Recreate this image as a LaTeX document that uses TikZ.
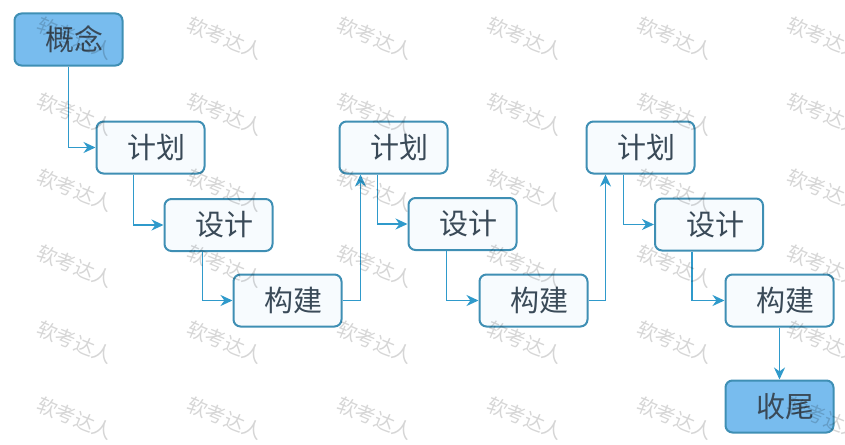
\documentclass[tikz,border=0pt]{standalone}
\usepackage{fontspec}
\setmainfont{Noto Sans CJK SC}
\usetikzlibrary{arrows.meta}
\definecolor{boxline}{HTML}{3F8FB4}
\definecolor{flowline}{HTML}{2F9ACB}
\definecolor{endfill}{HTML}{78BCEE}
\definecolor{stepfill}{HTML}{F7FBFE}
\definecolor{booktext}{HTML}{3A4A58}

\begin{document}
\begin{tikzpicture}[x=1pt,y=-1pt]
	\tikzstyle{phase}=[
		rectangle, rounded corners=7pt, draw=boxline, line width=2pt, fill=stepfill,
		minimum width=108pt, minimum height=52pt, inner sep=0pt,
		text=booktext, font=\fontsize{29}{30}\selectfont,
		execute at begin node=\hspace*{12pt}
	]
	\tikzstyle{ends}=[phase, fill=endfill]
	\tikzstyle{line}=[-{Stealth[length=12pt,width=11pt]},draw=flowline,line width=1.8pt]
	\tikzstyle{mark text}=[black, opacity=.16, rotate=-22, font=\fontsize{20}{21}\selectfont]
	\useasboundingbox (0,0) rectangle (845,444);
	\node[ends] (gn) at (68.5,39.5) {概念};
	\node[phase] (jh1) at (150.5,147.5) {计划};
	\node[phase] (sj1) at (218.5,225) {设计};
	\node[phase] (gj1) at (287.5,300.5) {构建};
	\node[phase] (jh2) at (393.5,147.5) {计划};
	\node[phase] (sj2) at (462.5,224) {设计};
	\node[phase] (gj2) at (533.5,300.5) {构建};
	\node[phase] (jh3) at (640.5,147.5) {计划};
	\node[phase] (sj3) at (709,224.5) {设计};
	\node[phase] (gj3) at (779.5,300.5) {构建};
	\node[ends] (sw) at (779.5,406.5) {收尾};
	\draw (gn.south) |- (jh1.west) [line];
	\draw ([xshift=-17pt]jh1.south) |- (sj1.west) [line];
	\draw ([xshift=-16pt]sj1.south) |- (gj1.west) [line];
	\draw (gj1.east) -| ([xshift=-33pt]jh2.south) [line];
	\draw ([xshift=-16pt]jh2.south) |- (sj2.west) [line];
	\draw ([xshift=-16pt]sj2.south) |- (gj2.west) [line];
	\draw (gj2.east) -| ([xshift=-35pt]jh3.south) [line];
	\draw ([xshift=-17pt]jh3.south) |- (sj3.west) [line];
	\draw ([xshift=-17pt]sj3.south) |- (gj3.west) [line];
	\draw (gj3.south) -- (sw.north) [line];
	\foreach \col in {0,...,5}
		\foreach \row in {0,...,5}
			\node[mark text] (wm\col\row) at (75+150*\col,38+76*\row) {软考达人};
\end{tikzpicture}
\end{document}
